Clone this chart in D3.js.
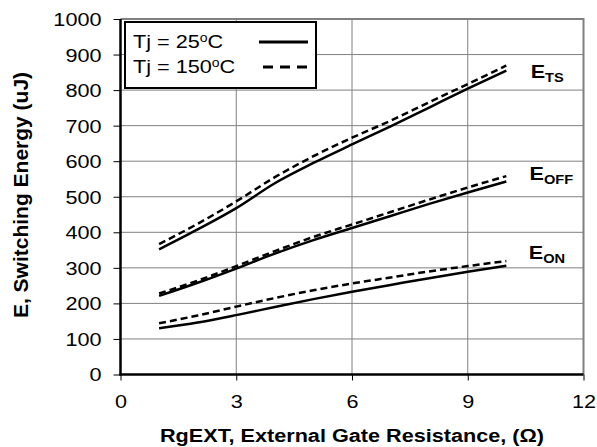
<!DOCTYPE html>
<html>
<head>
<meta charset="utf-8">
<script src="https://cdn.jsdelivr.net/npm/d3@7/dist/d3.min.js"></script>
<style>
  html, body { margin: 0; padding: 0; background: #fff; }
  svg { display: block; font-family: "Liberation Sans", Arial, sans-serif; }
</style>
</head>
<body>
<div id="chart"></div>
<script>
// switching energy vs external gate resistance

const RG = [1, 2, 3, 4, 5, 6, 7, 8, 9, 10];

const ETS_25  = [352, 408, 468, 538, 595, 647, 698, 751, 804, 855];
const ETS_150 = [367, 424, 487, 555, 614, 666, 714, 766, 817, 869];
const EOFF_25  = [221, 258, 298, 340, 378, 412, 446, 480, 512, 543];
const EOFF_150 = [228, 264, 305, 347, 387, 422, 457, 492, 526, 558];
const EON_25  = [130, 146, 167, 190, 212, 233, 252, 271, 289, 306];
const EON_150 = [144, 166, 191, 215, 237, 256, 273, 290, 305, 319];

const X_TICKS = [0, 3, 6, 9, 12];
const Y_TICKS = [0, 100, 200, 300, 400, 500, 600, 700, 800, 900, 1000];

const SERIES = [
  { values: ETS_25,  dashed: false },
  { values: ETS_150, dashed: true },
  { values: EOFF_25,  dashed: false },
  { values: EOFF_150, dashed: true },
  { values: EON_25,  dashed: false },
  { values: EON_150, dashed: true }
];

// curve labels (in data units)
const CURVE_LABELS = [
  { sub: "TS",  x: 10.63, y: 835 },
  { sub: "OFF", x: 10.6,  y: 546 },
  { sub: "ON",  x: 10.58, y: 325 }
];

const LEGEND = [
  { label: "Tj = 25", dashed: false },
  { label: "Tj = 150", dashed: true }
];

// text in the reference is a bit wider than Arial
const SX = 1.17;
const FS = 18.5;

const W = 597, H = 447;
const margin = { top: 19, right: 13.5, bottom: 72.5, left: 120.5 };
const width = W - margin.left - margin.right;
const height = H - margin.top - margin.bottom;

const svg = d3.select("#chart").append("svg")
  .attr("width", W)
  .attr("height", H);

const g = svg.append("g")
  .attr("transform", `translate(${margin.left},${margin.top})`);

const x = d3.scaleLinear().domain([0, 12]).range([0, width]);
const y = d3.scaleLinear().domain([0, 1000]).range([height, 0]);

// grid
g.append("g")
  .selectAll("line.hgrid")
  .data(Y_TICKS.slice(1, -1))
  .enter().append("line")
  .attr("x1", 0).attr("x2", width)
  .attr("y1", d => y(d)).attr("y2", d => y(d))
  .attr("stroke", "#808080").attr("stroke-width", 1);

g.append("g")
  .selectAll("line.vgrid")
  .data(X_TICKS.slice(1, -1))
  .enter().append("line")
  .attr("y1", 0).attr("y2", height)
  .attr("x1", d => x(d)).attr("x2", d => x(d))
  .attr("stroke", "#808080").attr("stroke-width", 1);

// top / right border
g.append("path")
  .attr("d", `M0,${y(1000)}H${x(12)}V${y(0)}`)
  .attr("fill", "none")
  .attr("stroke", "#808080")
  .attr("stroke-width", 2);

// axes
const yAxis = g.append("g")
  .call(d3.axisLeft(y).tickValues(Y_TICKS).tickFormat(d3.format("d")).tickSize(7));
const xAxis = g.append("g")
  .attr("transform", `translate(0,${height})`)
  .call(d3.axisBottom(x).tickValues(X_TICKS).tickFormat(d3.format("d")).tickSize(6));

[yAxis, xAxis].forEach(a => {
  a.select(".domain").remove();
  a.selectAll(".tick line").attr("stroke", "#000").attr("stroke-width", 1);
  a.selectAll(".tick text")
    .attr("font-size", FS + "px")
    .attr("font-family", "Liberation Sans, Arial, sans-serif")
    .attr("fill", "#000");
});

yAxis.selectAll(".tick text")
  .attr("x", null).attr("dy", "0.35em")
  .attr("transform", `translate(-19,0) scale(${SX},1)`);
xAxis.selectAll(".tick text")
  .attr("y", null).attr("dy", null)
  .attr("transform", `translate(0,33) scale(${SX},1)`);

g.append("line")
  .attr("x1", 0).attr("x2", 0).attr("y1", y(1000)).attr("y2", y(0) + 1)
  .attr("stroke", "#000").attr("stroke-width", 2.5);
g.append("line")
  .attr("x1", -1).attr("x2", x(12)).attr("y1", y(0)).attr("y2", y(0))
  .attr("stroke", "#000").attr("stroke-width", 2.5);

// curves
const line = d3.line()
  .x((d, i) => x(RG[i]))
  .y(d => y(d))
  .curve(d3.curveMonotoneX);

g.append("g")
  .selectAll("path.curve")
  .data(SERIES)
  .enter().append("path")
  .attr("class", "curve")
  .attr("d", d => line(d.values))
  .attr("fill", "none")
  .attr("stroke", "#000")
  .attr("stroke-width", 2.5)
  .attr("stroke-dasharray", d => d.dashed ? "7,4" : null);

// curve labels
const lbl = g.append("g")
  .selectAll("text.clabel")
  .data(CURVE_LABELS)
  .enter().append("text")
  .attr("transform", d => `translate(${x(d.x)},${y(d.y)}) scale(${SX},1)`)
  .attr("font-size", FS + "px")
  .attr("font-weight", "bold")
  .attr("fill", "#000");
lbl.append("tspan").text("E");
lbl.append("tspan")
  .attr("font-size", "12.5px")
  .attr("dy", 4)
  .text(d => d.sub);

// legend
const leg = g.append("g").attr("transform", "translate(4.5,3)");
leg.append("rect")
  .attr("width", 191).attr("height", 66)
  .attr("fill", "#fff")
  .attr("stroke", "#000")
  .attr("stroke-width", 2);

const items = leg.selectAll("g.item")
  .data(LEGEND)
  .enter().append("g")
  .attr("transform", (d, i) => `translate(0,${20 + i * 25})`);

const it = items.append("text")
  .attr("transform", `translate(8,0) scale(${SX},1)`)
  .attr("dy", "0.35em")
  .attr("font-size", FS + "px")
  .attr("fill", "#000");
it.append("tspan").text(d => d.label);
it.append("tspan").attr("font-size", "12px").attr("dy", -6).text("o");
it.append("tspan").attr("dy", 6).text("C");

items.append("line")
  .attr("x1", d => d.dashed ? 138 : 134)
  .attr("x2", d => d.dashed ? 186 : 183)
  .attr("y1", 0).attr("y2", 0)
  .attr("stroke", "#000")
  .attr("stroke-width", 3)
  .attr("stroke-dasharray", d => d.dashed ? "10,7" : null);

// axis titles
svg.append("text")
  .attr("transform", `translate(${margin.left + width / 2},441.5) scale(${SX},1)`)
  .attr("text-anchor", "middle")
  .attr("font-size", FS + "px")
  .attr("font-weight", "bold")
  .attr("fill", "#000")
  .text("RgEXT, External Gate Resistance, (Ω)");

svg.append("text")
  .attr("transform", "translate(27.5,195) rotate(-90)")
  .attr("text-anchor", "middle")
  .attr("font-size", "21px")
  .attr("font-weight", "bold")
  .attr("fill", "#000")
  .text("E, Switching Energy (uJ)");
</script>
</body>
</html>
